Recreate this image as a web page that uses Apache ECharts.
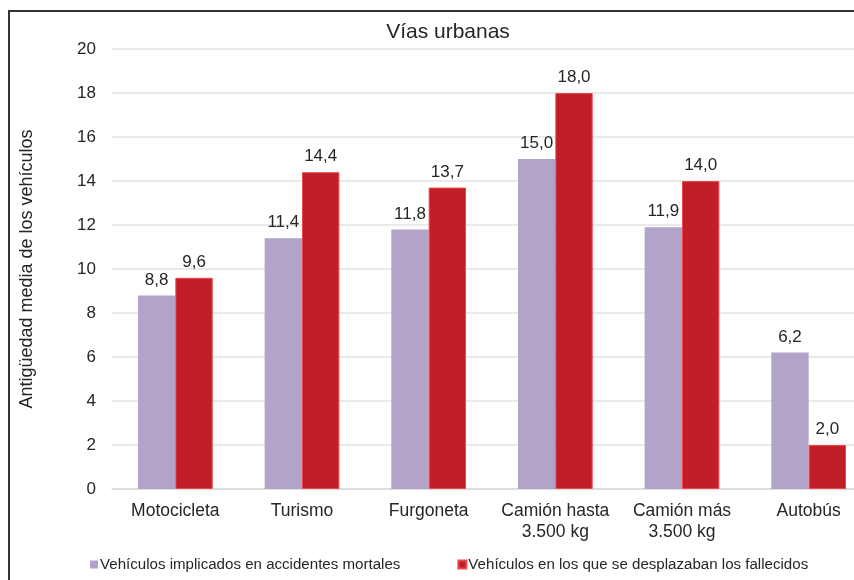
<!DOCTYPE html>
<html>
<head>
<meta charset="utf-8">
<script src="https://cdn.jsdelivr.net/npm/echarts@6/dist/echarts.min.js"></script>
<style>
  html, body { margin: 0; padding: 0; background: #fff; }
  #chart { width: 854px; height: 580px; }
</style>
</head>
<body>
<div id="chart"></div>
<script>
// Average vehicle age on urban roads, by vehicle type
const categories = ['Motocicleta', 'Turismo', 'Furgoneta', 'Camión hasta\n3.500 kg', 'Camión más\n3.500 kg', 'Autobús'];
const implicados = [8.8, 11.4, 11.8, 15.0, 11.9, 6.2];
const fallecidos = [9.6, 14.4, 13.7, 18.0, 14.0, 2.0];
const seriesNames = ['Vehículos implicados en accidentes mortales', 'Vehículos en los que se desplazaban los fallecidos'];

const FONT = '"Liberation Sans", Arial, sans-serif';
const TXT = '#262626';
const fmt = p => p.value.toFixed(1).replace('.', ',');

const chart = echarts.init(document.getElementById('chart'), null, { renderer: 'canvas' });
chart.setOption({
  animation: false,
  textStyle: { fontFamily: FONT },
  title: {
    text: 'Vías urbanas',
    left: 443, top: 17,
    textAlign: 'center',
    textStyle: { fontFamily: FONT, fontSize: 21, fontWeight: 'normal', color: TXT }
  },
  legend: {
    top: 552,
    left: 85,
    itemWidth: 8, itemHeight: 8, itemGap: 57,
    icon: 'rect',
    textStyle: { fontFamily: FONT, fontSize: 15.1, color: TXT, padding: [0, 0, 0, -3] },
    data: seriesNames
  },
  // plot area runs past the right edge of the canvas
  grid: { left: 112, width: 760, top: 49, height: 440, outerBoundsMode: 'none', containLabel: false },
  xAxis: {
    type: 'category',
    data: categories,
    axisTick: { show: false },
    axisLine: { lineStyle: { color: '#d9d9d9', width: 1.5 } },
    axisLabel: { interval: 0, fontFamily: FONT, fontSize: 17.5, color: TXT, margin: 12, lineHeight: 21, hideOverlap: false }
  },
  yAxis: {
    type: 'value',
    min: 0, max: 20, interval: 2,
    name: 'Antigüedad media de los vehículos',
    nameLocation: 'middle',
    nameGap: 76,
    nameTextStyle: { fontFamily: FONT, fontSize: 18, color: TXT },
    axisLabel: { fontFamily: FONT, fontSize: 17, color: TXT, margin: 16 },
    splitLine: { lineStyle: { color: '#e3e3e3', width: 1.5 } }
  },
  series: [
    {
      name: seriesNames[0], type: 'bar', data: implicados,
      barGap: '0%', barCategoryGap: '41%',
      itemStyle: { color: '#b2a3c9' },
      label: { show: true, position: 'top', distance: 7, formatter: fmt, fontFamily: FONT, fontSize: 17, color: TXT }
    },
    {
      name: seriesNames[1], type: 'bar', data: fallecidos,
      itemStyle: { color: '#c11f27', borderColor: '#f0474a', borderWidth: 1 },
      label: { show: true, position: 'top', distance: 7, formatter: fmt, fontFamily: FONT, fontSize: 17, color: TXT }
    }
  ],
  graphic: [{
    type: 'polyline',
    shape: { points: [[9, 580], [9, 11], [854, 11]] },
    style: { stroke: '#333', lineWidth: 2, fill: null }
  }]
});
</script>
</body>
</html>
